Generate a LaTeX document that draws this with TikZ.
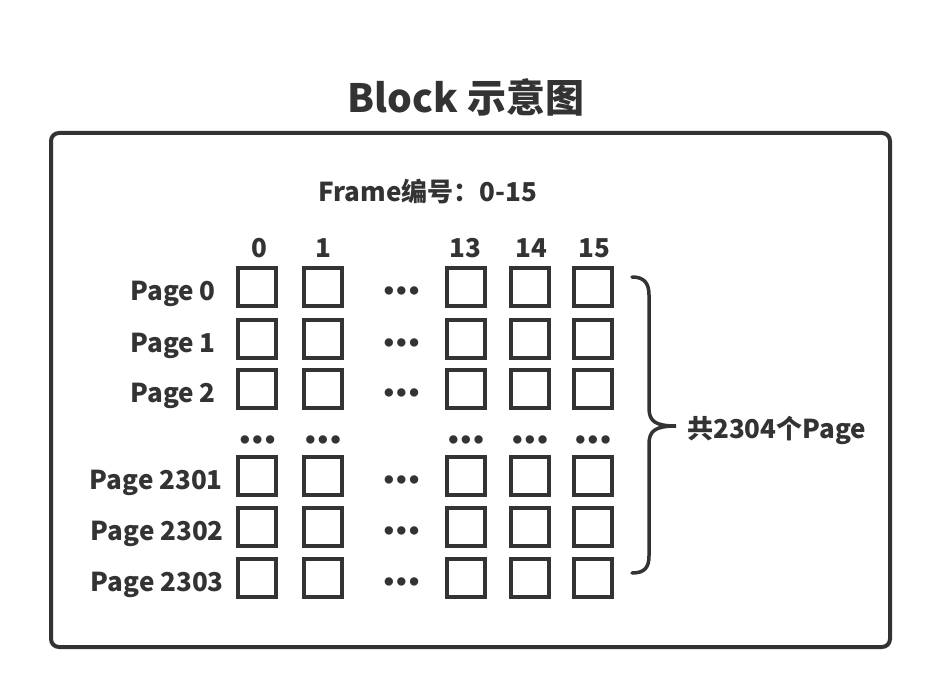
\documentclass[tikz,border=0pt]{standalone}
\usepackage{fontspec}
\setmainfont{Noto Sans CJK SC}
\newfontfamily\bulletfont{Liberation Sans}
\definecolor{ink}{HTML}{333333}
\newcommand{\threedots}{•\kern2.5pt•\kern2.5pt•}
\begin{document}
\begin{tikzpicture}[x=1pt,y=-1pt,
  cell/.style={draw=ink, line width=4pt, minimum size=38.5pt, inner sep=0pt},
  lbl/.style={text=ink, font=\bfseries\fontsize{26}{30}\selectfont, inner sep=0pt},
  ttl/.style={text=ink, font=\bfseries\fontsize{39}{44}\selectfont, inner sep=0pt},
  dotsym/.style={text=ink, font=\bulletfont\bfseries\fontsize{29}{32}\selectfont, inner sep=0pt},
  frameline/.style={draw=ink, line width=4pt, rounded corners=8pt},
  bracel/.style={draw=ink, line width=3.5pt, line cap=round}]
\useasboundingbox (0,0) rectangle (940,698);
\fill[white] (0,0) rectangle (940,698);
% title
\node[ttl, anchor=base] (title) at (466,113) {Block 示意图};
% outer frame
\draw[frameline] (51,133) rectangle (890,647);
\node[lbl, anchor=base] (frame) at (428,201) {Frame编号：0-15};
% column labels
\node[lbl, anchor=base] (c0) at (259,257) {0};
\node[lbl, anchor=base] (c1) at (323,257) {1};
\node[lbl, anchor=base] (c13) at (465,257) {13};
\node[lbl, anchor=base] (c14) at (531,257) {14};
\node[lbl, anchor=base] (c15) at (594,257) {15};
% rows
\foreach \r/\y/\t/\xe in {0/287/Page 0/216, 1/339/Page 1/216, 2/389/Page 2/216,
                          3/476/Page 2301/223, 4/527/Page 2302/224, 5/578/Page 2303/224} {
  \node[lbl, anchor=base east] (p\r) at (\xe,\y+13) {\t};
  \foreach \c/\x in {0/257, 1/323, 13/466, 14/530, 15/593} {
    \node[cell] (cell-\r-\c) at (\x,\y) {};
  }
  \node[dotsym] (d\r) at (401.5,\y+6.5) {\threedots};
}
% dots row
\foreach \c/\x in {0/257.5, 1/323, 13/466, 14/530, 15/593} {
  \node[dotsym] (dr\c) at (\x,442.5) {\threedots};
}
% brace
\coordinate (btop) at (632,277);
\coordinate (bbot) at (632,573);
\coordinate (btip) at (676,426);
\draw[bracel] (btop) .. controls (644,277) and (649,283) .. (649,295)
  -- (649,408) .. controls (649,421) and (655,426) .. (btip)
  .. controls (655,426) and (649,431) .. (649,444)
  -- (649,556) .. controls (649,568) and (644,573) .. (bbot);
\node[lbl, anchor=base west] (total) at (687,438) {共2304个Page};
\end{tikzpicture}
\end{document}
